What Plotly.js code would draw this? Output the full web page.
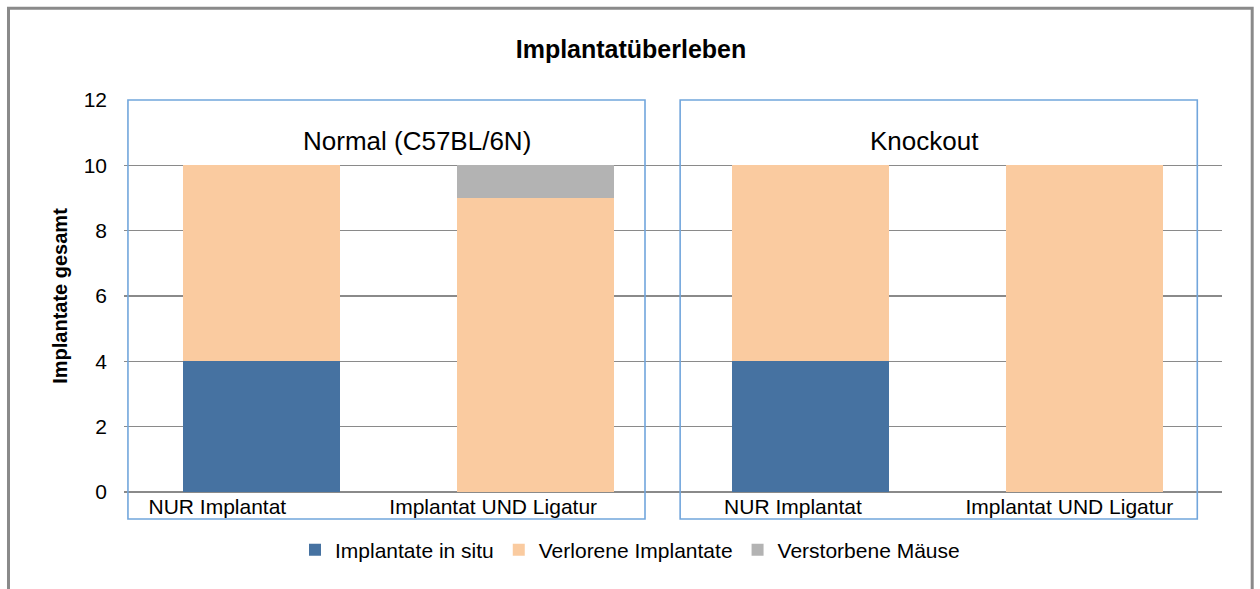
<!DOCTYPE html>
<html>
<head>
<meta charset="utf-8">
<script src="https://cdn.plot.ly/plotly-3.0.1.min.js"></script>
<style>
  html, body { margin: 0; padding: 0; background: #ffffff; }
  #chart { width: 1260px; height: 589px; }
</style>
</head>
<body>
<div id="chart"></div>
<script>
// ---- Data ----
const categoryLabels = ["NUR Implantat", "Implantat UND Ligatur", "NUR Implantat", "Implantat UND Ligatur"];
const groupLabels = ["Normal (C57BL/6N)", "Knockout"];
const seriesNames = ["Implantate in situ", "Verlorene Implantate", "Verstorbene Mäuse"];
const implantateInSitu = [4, 0, 4, 0];
const verloreneImplantate = [6, 9, 6, 10];
const verstorbeneMaeuse = [0, 1, 0, 0];
const yTicks = [0, 2, 4, 6, 8, 10, 12];

// ---- Styling ----
const FONT = "Liberation Sans, Arial, Helvetica, sans-serif";
const colors = ["#4672A1", "#FACBA0", "#B3B3B3"];
const xIdx = categoryLabels.map((_, i) => i);
const labelShift = [-0.16, -0.155, -0.063, -0.056]; // Excel-like label offsets (styling)

const seriesValues = [implantateInSitu, verloreneImplantate, verstorbeneMaeuse];
const traces = seriesValues.map((vals, k) => ({
  type: "bar",
  name: seriesNames[k],
  x: xIdx,
  y: vals,
  width: 0.572,
  marker: { color: colors[k], line: { width: 0 } },
  hoverinfo: "skip"
}));

const boxColor = "#72A6DC";
const shapes = [
  // group boxes
  { type: "rect", xref: "paper", yref: "paper", x0: 0.0036, x1: 0.4745, y0: -0.069, y1: 1,
    line: { color: boxColor, width: 1.6 }, fillcolor: "rgba(0,0,0,0)", layer: "above" },
  { type: "rect", xref: "paper", yref: "paper", x0: 0.5065, x1: 0.9775, y0: -0.069, y1: 1,
    line: { color: boxColor, width: 1.6 }, fillcolor: "rgba(0,0,0,0)", layer: "above" },
  // outer chart frame
  { type: "rect", xref: "paper", yref: "paper", x0: -0.1052, x1: 1.0275, y0: -0.30, y1: 1.2343,
    line: { color: "#8A8A8A", width: 3 }, fillcolor: "rgba(0,0,0,0)", layer: "above" }
];

const groupX = [0.2673, 0.7286];
const annotations = groupLabels.map((t, i) => ({
  text: t, xref: "paper", yref: "y", x: groupX[i], y: 10.75,
  xanchor: "center", yanchor: "middle", showarrow: false,
  font: { family: FONT, size: 26, color: "#000" }
}));

const layout = {
  width: 1260, height: 589,
  margin: { l: 124, r: 38, t: 100, b: 97 },
  paper_bgcolor: "#ffffff", plot_bgcolor: "#ffffff",
  barmode: "stack",
  bargap: 0,
  showlegend: true,
  title: {
    text: "<b>Implantatüberleben</b>",
    font: { family: FONT, size: 25, color: "#000" },
    xref: "container", yref: "container",
    x: 631 / 1260, xanchor: "center",
    y: 1 - 49 / 589, yanchor: "middle"
  },
  xaxis: {
    range: [-0.5, 3.5],
    tickmode: "array",
    tickvals: xIdx.map((v, i) => v + labelShift[i]),
    ticktext: categoryLabels,
    showgrid: false, zeroline: false, showline: false,
    ticks: "", tickfont: { family: FONT, size: 21, color: "#000" },
    fixedrange: true
  },
  yaxis: {
    range: [0, 12],
    tickmode: "array", tickvals: yTicks, ticktext: yTicks.map(String),
    showgrid: true, gridcolor: "#8A8A8A", gridwidth: 1.6,
    zeroline: true, zerolinecolor: "#8A8A8A", zerolinewidth: 1.6,
    showline: false, ticks: "",
    ticklabelstandoff: 16,
    tickfont: { family: FONT, size: 21, color: "#000" },
    title: { text: "<b>Implantate gesamt</b>", font: { family: FONT, size: 20, color: "#000" }, standoff: 10 },
    fixedrange: true
  },
  legend: {
    orientation: "h",
    xref: "container", yref: "container",
    x: 630 / 1260, xanchor: "center",
    y: 1 - 550 / 589, yanchor: "middle",
    font: { family: FONT, size: 21, color: "#000" },
    traceorder: "normal",
    itemwidth: 30,
    bgcolor: "rgba(0,0,0,0)"
  },
  shapes: shapes,
  annotations: annotations
};

Plotly.newPlot("chart", traces, layout, { displayModeBar: false, staticPlot: true });
</script>
</body>
</html>
